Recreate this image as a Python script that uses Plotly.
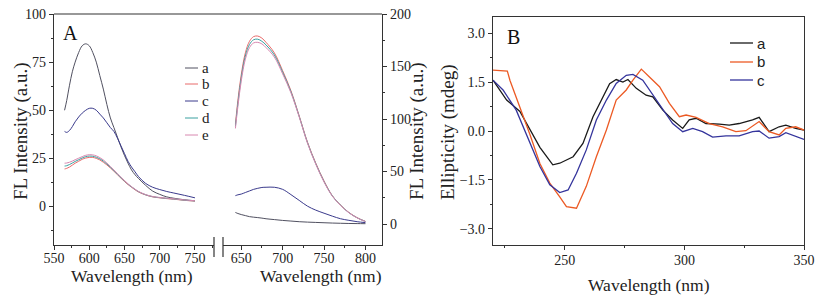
import plotly.graph_objects as go

W, H = 827, 299

# ---------------- Panel A, left segment (left axis) ----------------
wl_A1 = [565, 568, 572, 576, 580, 585, 590, 595, 600, 605, 610, 615, 620, 625, 630, 635,
         640, 645, 650, 655, 660, 665, 670, 680, 690, 700, 710, 720, 735, 750]
a_A1 = [50, 55, 63, 70, 75, 80, 83.5, 84.5, 83.5, 80, 75, 68, 61, 53, 46, 41,
        36, 31, 26.5, 22.5, 19, 16.5, 14.5, 11, 8, 6.3, 5, 4.3, 3.5, 3]
c_A1 = [39, 38.5, 39.5, 41.5, 44, 46.5, 48.5, 50, 51, 51, 50, 48, 46, 43.5, 41, 39,
        35.5, 31.5, 27.5, 23.5, 20.5, 18, 15.5, 12, 10, 8.8, 7.8, 7, 5.8, 4.5]
b_A1 = [19.5, 19.8, 20.5, 21.5, 22.5, 23.5, 24.5, 25.2, 25.5, 25.5, 25, 24.2, 23, 21.6, 20, 18.3,
        16.5, 14.7, 13, 11.4, 10, 8.7, 7.5, 6, 5, 4.5, 4.1, 3.8, 3.2, 2.8]
d_A1 = [21, 21.2, 21.8, 22.6, 23.4, 24.3, 25.2, 25.9, 26.2, 26.1, 25.6, 24.8, 23.6, 22.1, 20.4, 18.7,
        16.8, 15, 13.3, 11.6, 10.2, 8.9, 7.7, 6.1, 5.1, 4.6, 4.2, 3.9, 3.3, 2.9]
e_A1 = [22.5, 22.6, 23, 23.6, 24.3, 25.1, 25.9, 26.6, 26.9, 26.8, 26.3, 25.4, 24.2, 22.6, 20.8, 19,
        17.1, 15.2, 13.5, 11.8, 10.3, 9, 7.8, 6.2, 5.2, 4.7, 4.3, 4, 3.4, 3]

# ---------------- Panel A, right segment (right axis) ----------------
wl_A2 = [643, 646, 650, 655, 660, 665, 670, 675, 680, 690, 700, 710, 720, 730, 740, 750,
         760, 770, 780, 790, 800]
b_A2 = [95, 118, 142, 163, 174, 178.5, 179, 177, 173, 163, 146, 127, 103, 78, 58, 41,
        27, 18, 11, 6, 2.5]
d_A2 = [93, 115, 139, 160, 171, 175.5, 176, 174, 170.5, 161, 144.5, 126, 102.5, 77.5, 57.5, 40.5,
        26.8, 17.8, 10.8, 5.9, 2.4]
e_A2 = [91, 112, 136, 157, 168, 172.5, 173, 171.5, 168, 159, 143, 125, 102, 77, 57, 40,
        26.5, 17.6, 10.7, 5.8, 2.3]
c_A2 = [27, 27.8, 28.5, 30, 31.5, 33, 34, 34.8, 35, 35, 33, 28, 22.5, 17, 13.2, 10.3,
        7.5, 5, 3.5, 2.2, 1.3]
a_A2 = [11, 10, 9, 8, 7, 6.5, 6.1, 5.6, 5, 4.2, 3.4, 2.8, 2.2, 1.8, 1.5, 1.2,
        0.9, 0.7, 0.5, 0.4, 0.3]

# ---------------- Panel B (CD spectra) ----------------
wl_Ba = [220, 225.7, 231.25, 235.4, 239.6, 245, 247.9, 253.5, 257.6, 261.8, 266, 268.75, 271.5,
         274.3, 276.4, 279.9, 284, 286.8, 291, 295.1, 299.3, 302, 304.9, 309, 314.6, 318.75,
         322.9, 328.5, 331.25, 335.4, 339.6, 342.4, 346.5, 350]
a_B = [1.56, 0.95, 0.6, 0.05, -0.5, -1.04, -0.99, -0.79, -0.38, 0.44, 1.05, 1.45, 1.58,
       1.5, 1.58, 1.31, 1.1, 1.05, 0.64, 0.34, 0.08, 0.34, 0.39, 0.23, 0.21, 0.18,
       0.23, 0.34, 0.42, -0.02, 0.13, 0.18, 0.08, 0.03]
wl_Bb = [220, 222.5, 226, 227.1, 231.25, 235.4, 239.6, 243.75, 247.9, 250.7, 254.9, 259, 263.2,
         267.4, 271.5, 275.7, 278.5, 282, 285.4, 289.6, 293.75, 297.9, 300.7, 304.9, 310.4,
         316, 321.5, 325.7, 331.25, 335.4, 339.6, 342.4, 346.5, 350]
b_B = [1.87, 1.86, 1.84, 1.55, 0.75, -0.1, -1.0, -1.6, -2.02, -2.32, -2.37, -1.7, -0.79,
       0.03, 0.95, 1.26, 1.56, 1.9, 1.66, 1.36, 0.85, 0.44, 0.49, 0.42, 0.23,
       0.13, -0.02, 0.01, 0.29, -0.02, -0.12, 0.08, 0.13, 0.03]
wl_Bc = [220, 224.2, 229.7, 235.4, 239.6, 243.75, 247.9, 251.4, 254.9, 259, 263.2, 267.4, 271.5,
         275.7, 278.5, 282.6, 286.8, 291, 295.1, 299.3, 303.5, 307.6, 311.8, 317.4, 322.9,
         328.5, 331.25, 335.4, 339.6, 342.4, 350]
c_B = [1.56, 1.26, 0.64, -0.38, -1.09, -1.65, -1.89, -1.81, -1.3, -0.58, 0.34, 0.95, 1.46,
       1.71, 1.74, 1.56, 1.1, 0.64, 0.23, -0.02, 0.08, -0.02, -0.19, -0.15, -0.15,
       -0.02, 0.0, -0.22, -0.17, -0.05, -0.26]

names_A = ["a", "b", "c", "d", "e"]
cols_A = ["#505060", "#e86a6a", "#3a3a8c", "#3aa0a0", "#d888b0"]
names_B = ["a", "b", "c"]
cols_B = ["#1a1a1a", "#ec5a24", "#34349c"]

SERIF = "Liberation Serif"
SANS = "Liberation Sans"

fig = go.Figure()

A1 = [a_A1, b_A1, c_A1, d_A1, e_A1]
A2 = [a_A2, b_A2, c_A2, d_A2, e_A2]
for i in range(5):
    fig.add_trace(go.Scatter(x=wl_A1, y=A1[i], mode="lines", name=names_A[i], showlegend=False,
                             line=dict(color=cols_A[i], width=1), xaxis="x", yaxis="y",
                             line_shape="spline"))
for i in range(5):
    fig.add_trace(go.Scatter(x=wl_A2, y=A2[i], mode="lines", name=names_A[i], showlegend=False,
                             line=dict(color=cols_A[i], width=1), xaxis="x2", yaxis="y2",
                             line_shape="spline"))
for nm, wl, yy, col in zip(names_B, [wl_Ba, wl_Bb, wl_Bc], [a_B, b_B, c_B], cols_B):
    fig.add_trace(go.Scatter(x=wl, y=yy, mode="lines", name=nm, showlegend=False,
                             line=dict(color=col, width=1.3), xaxis="x3", yaxis="y3"))

def px(v):
    return v / W

def py(v):
    return 1 - v / H

tickfont = dict(family=SERIF, size=14, color="#222")
axcommon = dict(showline=True, linecolor="#333", linewidth=1.2, ticks="outside", ticklen=4,
                tickcolor="#333", showgrid=False, zeroline=False, tickfont=tickfont,
                automargin=False)
minor_x = dict(dtick=25, ticks="outside", ticklen=2, tickcolor="#333")

fig.update_layout(
    width=W, height=H, margin=dict(l=0, r=0, t=0, b=0, autoexpand=False),
    paper_bgcolor="white", plot_bgcolor="white", showlegend=False,
    xaxis=dict(domain=[px(54), px(214)], range=[550, 777], anchor="y", dtick=50, tick0=550,
               minor=minor_x, ticklabelstandoff=-4, **axcommon),
    yaxis=dict(domain=[py(245), py(14)], range=[-20, 100], anchor="x", dtick=25, tick0=0,
               minor=dict(dtick=12.5, ticks="outside", ticklen=2, tickcolor="#333"), **axcommon),
    xaxis2=dict(domain=[px(223), px(382)], range=[628, 820], anchor="y2", dtick=50, tick0=650,
                minor=minor_x, ticklabelstandoff=-4, **axcommon),
    yaxis2=dict(domain=[py(245), py(14)], range=[-20, 200], anchor="x2", side="right",
                dtick=50, tick0=0,
                minor=dict(dtick=25, ticks="outside", ticklen=2, tickcolor="#333"), **axcommon),
    xaxis3=dict(domain=[px(493), px(804)], range=[220, 350], anchor="y3", dtick=50, tick0=250,
                mirror=True, minor=minor_x, ticklabelstandoff=-2, **axcommon),
    yaxis3=dict(domain=[py(245), py(17)], range=[-3.5, 3.5], anchor="x3", dtick=1.5, tick0=0,
                tickformat=".1f", mirror=True,
                minor=dict(dtick=0.75, ticks="outside", ticklen=2, tickcolor="#333"), **axcommon),
)

shapes = [
    # top border of panel A (continuous across the break)
    dict(type="line", xref="paper", yref="paper", x0=px(54), x1=px(382), y0=py(14), y1=py(14),
         line=dict(color="#333", width=1.2)),
    # axis break marks
    dict(type="line", xref="paper", yref="paper", x0=px(214), x1=px(214), y0=py(237), y1=py(257),
         line=dict(color="#333", width=1.2)),
    dict(type="line", xref="paper", yref="paper", x0=px(223), x1=px(223), y0=py(237), y1=py(257),
         line=dict(color="#333", width=1.2)),
]

xtitle = dict(family=SERIF, size=17.5, color="#222")
ytitle = dict(family=SERIF, size=19, color="#222")
ann = [
    dict(text="A", x=px(70), y=py(33), font=dict(family=SERIF, size=20, color="#111")),
    dict(text="B", x=px(513), y=py(37), font=dict(family=SERIF, size=20, color="#111")),
    dict(text="Wavelength (nm)", x=px(132), y=py(276), font=xtitle),
    dict(text="Wavelength (nm)", x=px(321), y=py(276), font=xtitle),
    dict(text="Wavelength (nm)", x=px(649), y=py(285), font=xtitle),
    dict(text="FL Intensity (a.u.)", x=px(21), y=py(131), textangle=-90, font=ytitle),
    dict(text="FL Intensity (a.u.)", x=px(417), y=py(131), textangle=-90, font=ytitle),
    dict(text="Ellipticity (mdeg)", x=px(448), y=py(132), textangle=-90, font=ytitle),
]

# hand-built legends (short sample lines as in the reference)
legA_y = [68, 84, 101, 118, 135]
for nm, col, yy in zip(names_A, cols_A, legA_y):
    shapes.append(dict(type="line", xref="paper", yref="paper", x0=px(185), x1=px(198),
                       y0=py(yy), y1=py(yy), line=dict(color=col, width=1)))
    ann.append(dict(text=nm, x=px(200), y=py(yy), xanchor="left",
                    font=dict(family=SERIF, size=15, color="#222")))
legB_y = [43, 62, 80]
for nm, col, yy in zip(names_B, cols_B, legB_y):
    shapes.append(dict(type="line", xref="paper", yref="paper", x0=px(730), x1=px(753),
                       y0=py(yy), y1=py(yy), line=dict(color=col, width=1.3)))
    ann.append(dict(text=nm, x=px(755), y=py(yy), xanchor="left",
                    font=dict(family=SANS, size=15, color="#222")))

for a_ in ann:
    a_.setdefault("xanchor", "center")
    a_.update(xref="paper", yref="paper", showarrow=False, yanchor="middle")
fig.update_layout(shapes=shapes, annotations=ann)

fig.write_html("out.html", config={"displayModeBar": False},
               post_script="document.body.style.margin='0';document.body.style.padding='0';")
